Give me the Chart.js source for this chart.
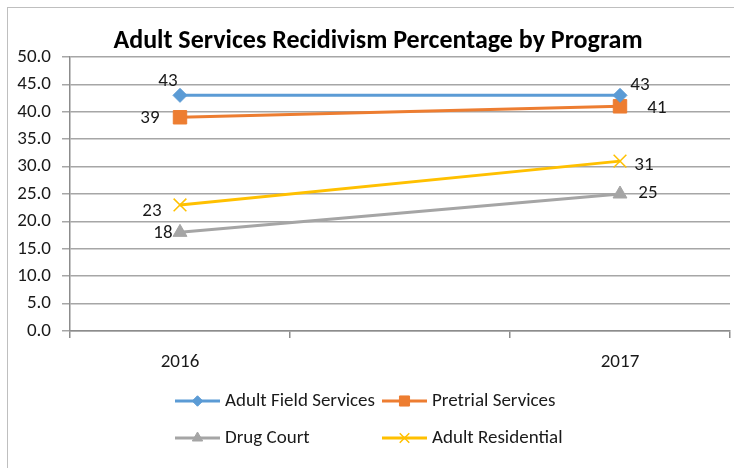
<!DOCTYPE html>
<html><head><meta charset="utf-8">
<script src="https://cdn.jsdelivr.net/npm/chart.js@4/dist/chart.umd.min.js"></script>
<style>html,body{margin:0;padding:0;background:#fff;}canvas{display:block;}</style>
</head><body>
<canvas id="c" width="734" height="468"></canvas>
<script>
// ---- data ----
const categories = ['2016', '', '2017'];
const seriesNames = ['Adult Field Services', 'Pretrial Services', 'Drug Court', 'Adult Residential'];
const adultFieldServices = [43, null, 43];
const pretrialServices   = [39, null, 41];
const drugCourt          = [18, null, 25];
const adultResidential   = [23, null, 31];
const yMin = 0, yMax = 50, yStep = 5;
const chartTitle = 'Adult Services Recidivism Percentage by Program';

// ---- styles ----
const FONT = 'Carlito, Calibri, Lato, sans-serif';
const FS = 19;
const colors = ['#5B9BD5', '#ED7D31', '#A5A5A5', '#FFC000'];
const pointStyles = ['rectRot', 'rect', 'triangle', 'crossRot'];
const pointRadii = [7, 9.5, 8, 9];
const seriesValues = [adultFieldServices, pretrialServices, drugCourt, adultResidential];
// label offsets per series per point (px), [dx, dy]
const labelOffsets = [
  [[-12, -14], null, [20, -10]],
  [[-30, 1], null, [37, 2]],
  [[-17, 1], null, [28, -1]],
  [[-28, 6], null, [24, 4]]
];
const titlePos = [378, 41];
const legendCols = [175, 382];
const legendRows = [401, 438];
const GRID = '#a6a6a6';
const AXIS = '#8c8c8c';

const datasets = seriesNames.map((name, i) => ({
  label: name,
  data: seriesValues[i],
  borderColor: colors[i],
  backgroundColor: colors[i],
  borderWidth: 3,
  pointStyle: pointStyles[i],
  pointRadius: pointRadii[i],
  pointHoverRadius: pointRadii[i],
  pointBorderWidth: i === 3 ? 1.5 : 1,
  pointBorderColor: colors[i],
  pointBackgroundColor: colors[i],
  spanGaps: true,
  tension: 0
}));

const framePlugin = {
  id: 'frame',
  beforeDraw(chart) {
    const ctx = chart.ctx;
    ctx.save();
    ctx.fillStyle = '#fff';
    ctx.fillRect(0, 0, chart.width, chart.height);
    ctx.strokeStyle = '#bfbfbf';
    ctx.lineWidth = 1;
    ctx.strokeRect(7.5, 7.5, chart.width + 20, chart.height + 20);
    ctx.fillStyle = '#000';
    ctx.font = 'bold 26px ' + FONT;
    ctx.textAlign = 'center';
    ctx.textBaseline = 'middle';
    ctx.fillText(chartTitle, titlePos[0], titlePos[1]);
    ctx.restore();
  }
};

const labelPlugin = {
  id: 'valueLabels',
  afterDatasetsDraw(chart) {
    const ctx = chart.ctx;
    ctx.save();
    ctx.font = FS + 'px ' + FONT;
    ctx.fillStyle = '#1a1a1a';
    ctx.textAlign = 'center';
    ctx.textBaseline = 'middle';
    chart.data.datasets.forEach((ds, i) => {
      const meta = chart.getDatasetMeta(i);
      meta.data.forEach((pt, j) => {
        const v = ds.data[j];
        if (v === null || v === undefined) return;
        const off = labelOffsets[i][j] || [0, 0];
        ctx.fillText(String(Math.round(v)), pt.x + off[0], pt.y + off[1]);
      });
    });
    ctx.restore();
  }
};

const legendPlugin = {
  id: 'customLegend',
  afterDraw(chart) {
    const ctx = chart.ctx;
    ctx.save();
    chart.data.datasets.forEach((ds, i) => {
      const x = legendCols[i % 2];
      const y = legendRows[Math.floor(i / 2)];
      ctx.strokeStyle = ds.borderColor;
      ctx.lineWidth = 3;
      ctx.beginPath();
      ctx.moveTo(x, y);
      ctx.lineTo(x + 45, y);
      ctx.stroke();
      ctx.fillStyle = ds.backgroundColor;
      ctx.strokeStyle = ds.borderColor;
      ctx.lineWidth = ds.pointBorderWidth;
      Chart.helpers.drawPoint(ctx, {pointStyle: ds.pointStyle, radius: ds.pointRadius * 0.75, rotation: 0, borderWidth: ds.pointBorderWidth}, x + 22.5, y);
      ctx.fillStyle = '#1a1a1a';
      ctx.font = FS + 'px ' + FONT;
      ctx.textAlign = 'left';
      ctx.textBaseline = 'middle';
      ctx.fillText(ds.label, x + 50, y);
    });
    ctx.restore();
  }
};

function zeroSidePadding(scale) {
  scale.paddingLeft = 0;
  scale.paddingRight = 0;
}

new Chart(document.getElementById('c'), {
  type: 'line',
  data: { labels: categories, datasets },
  plugins: [framePlugin, labelPlugin, legendPlugin],
  options: {
    responsive: false,
    animation: false,
    devicePixelRatio: 1,
    layout: { autoPadding: false, padding: { left: 8, right: 4, top: 57, bottom: 0 } },
    plugins: {
      legend: { display: false },
      tooltip: { enabled: false },
      title: { display: false }
    },
    scales: {
      x: {
        offset: true,
        grid: { offset: true, drawOnChartArea: false, drawTicks: true, tickLength: 7, color: AXIS, lineWidth: 1.5 },
        border: { display: true, color: AXIS, width: 1.5 },
        ticks: { color: '#1a1a1a', font: { family: FONT, size: FS }, padding: 13, maxRotation: 0, autoSkip: false },
        afterFit(scale) { scale.height = 137; zeroSidePadding(scale); }
      },
      y: {
        min: yMin, max: yMax,
        grid: { color: GRID, lineWidth: 1.5, tickLength: 8 },
        border: { display: true, color: AXIS, width: 1.5 },
        ticks: { stepSize: yStep, color: '#1a1a1a', font: { family: FONT, size: FS }, padding: 11,
          callback: v => Number(v).toFixed(1) },
        afterFit(scale) { scale.width = 62; zeroSidePadding(scale); }
      }
    }
  }
});
</script>
</body></html>
